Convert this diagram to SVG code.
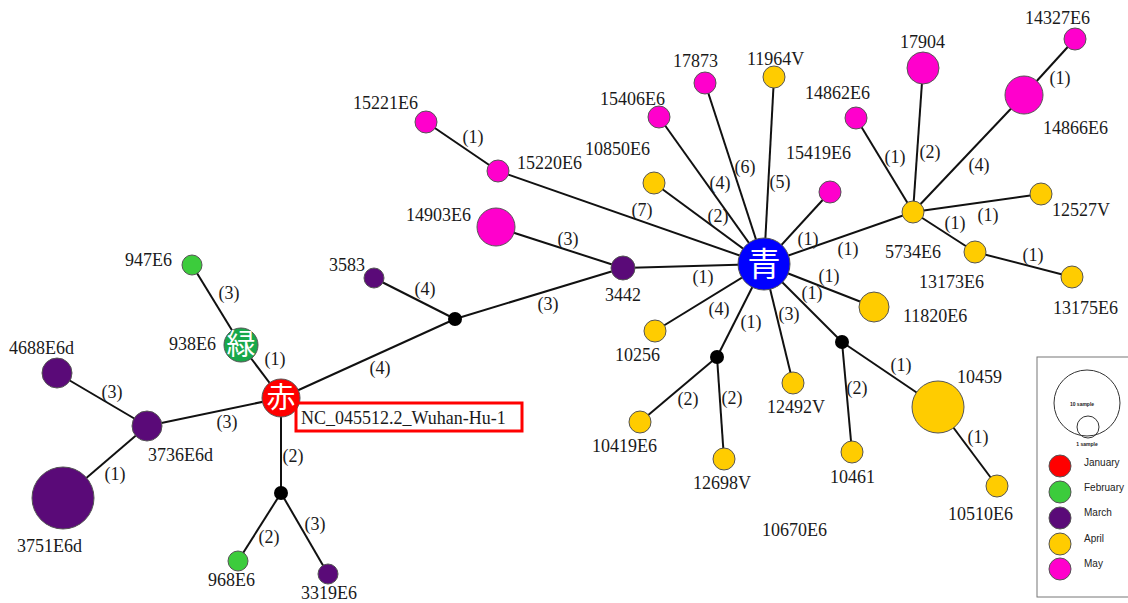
<svg xmlns="http://www.w3.org/2000/svg" width="1128" height="603" viewBox="0 0 1128 603">
<style>
.e{stroke:#111;stroke-width:2;fill:none}
.n{stroke:#555;stroke-width:1}
.r{fill:#ff0000}.g{fill:#3ccc3c}.gd{fill:#17a84a}.p{fill:#5a0a78}.y{fill:#ffcc00}.m{fill:#ff00cc}.b{fill:#0000ff}.k{fill:#000}
text{font-family:"Liberation Serif","Times New Roman",serif;font-size:18px;fill:#1a1a1a}
.el{text-anchor:middle}
text.kj{font-family:"Noto Sans CJK JP","Noto Sans CJK SC",sans-serif;fill:#fff;text-anchor:middle;font-size:29px}
text.kb{font-size:33px}
text.lg{font-family:"Liberation Sans",Arial,sans-serif;font-size:10px;fill:#222}
text.lt{font-family:"Liberation Sans",Arial,sans-serif;font-size:5px;font-weight:bold;fill:#222;text-anchor:middle}
</style>
<rect width="1128" height="603" fill="#fff"/>
<g id="connectors">
<line class="e" x1="192" y1="265" x2="241" y2="345"/>
<line class="e" x1="241" y1="345" x2="281" y2="398"/>
<line class="e" x1="57" y1="373" x2="147" y2="426"/>
<line class="e" x1="147" y1="426" x2="281" y2="398"/>
<line class="e" x1="147" y1="426" x2="63" y2="498"/>
<line class="e" x1="281" y1="398" x2="281" y2="493"/>
<line class="e" x1="281" y1="493" x2="238" y2="561"/>
<line class="e" x1="281" y1="493" x2="328" y2="574"/>
<line class="e" x1="281" y1="398" x2="455" y2="319"/>
<line class="e" x1="374" y1="278" x2="455" y2="319"/>
<line class="e" x1="455" y1="319" x2="623" y2="268"/>
<line class="e" x1="496" y1="227" x2="623" y2="268"/>
<line class="e" x1="623" y1="268" x2="764" y2="264"/>
<line class="e" x1="426" y1="122" x2="498" y2="171"/>
<line class="e" x1="498" y1="171" x2="764" y2="264"/>
<line class="e" x1="659" y1="117" x2="764" y2="264"/>
<line class="e" x1="705" y1="83" x2="764" y2="264"/>
<line class="e" x1="654" y1="183" x2="764" y2="264"/>
<line class="e" x1="774" y1="77" x2="764" y2="264"/>
<line class="e" x1="830" y1="192" x2="764" y2="264"/>
<line class="e" x1="764" y1="264" x2="913" y2="212"/>
<line class="e" x1="913" y1="212" x2="856" y2="118"/>
<line class="e" x1="913" y1="212" x2="923" y2="68"/>
<line class="e" x1="913" y1="212" x2="1024" y2="95"/>
<line class="e" x1="1024" y1="95" x2="1075" y2="39"/>
<line class="e" x1="913" y1="212" x2="1041" y2="194"/>
<line class="e" x1="913" y1="212" x2="975" y2="252"/>
<line class="e" x1="975" y1="252" x2="1072" y2="277"/>
<line class="e" x1="764" y1="264" x2="874" y2="307"/>
<line class="e" x1="764" y1="264" x2="842" y2="342"/>
<line class="e" x1="842" y1="342" x2="938" y2="407"/>
<line class="e" x1="938" y1="407" x2="997" y2="486"/>
<line class="e" x1="842" y1="342" x2="852" y2="452"/>
<line class="e" x1="764" y1="264" x2="793" y2="383"/>
<line class="e" x1="764" y1="264" x2="717" y2="357"/>
<line class="e" x1="717" y1="357" x2="640" y2="422"/>
<line class="e" x1="717" y1="357" x2="724" y2="459"/>
<line class="e" x1="764" y1="264" x2="655" y2="331"/>
</g>
<g id="edge-labels">
<text class="el" x="229" y="299">(3)</text>
<text class="el" x="275" y="365">(1)</text>
<text class="el" x="112" y="398">(3)</text>
<text class="el" x="227" y="428">(3)</text>
<text class="el" x="115" y="480">(1)</text>
<text class="el" x="293" y="462">(2)</text>
<text class="el" x="269" y="543">(2)</text>
<text class="el" x="315" y="530">(3)</text>
<text class="el" x="380" y="374">(4)</text>
<text class="el" x="425" y="295">(4)</text>
<text class="el" x="548" y="310">(3)</text>
<text class="el" x="568" y="245">(3)</text>
<text class="el" x="703" y="283">(1)</text>
<text class="el" x="473" y="143">(1)</text>
<text class="el" x="642" y="216">(7)</text>
<text class="el" x="720" y="189">(4)</text>
<text class="el" x="745" y="173">(6)</text>
<text class="el" x="718" y="222">(2)</text>
<text class="el" x="780" y="188">(5)</text>
<text class="el" x="808" y="245">(1)</text>
<text class="el" x="848" y="255">(1)</text>
<text class="el" x="895" y="163">(1)</text>
<text class="el" x="930" y="158">(2)</text>
<text class="el" x="979" y="171">(4)</text>
<text class="el" x="1060" y="84">(1)</text>
<text class="el" x="988" y="221">(1)</text>
<text class="el" x="955" y="229">(1)</text>
<text class="el" x="1033" y="261">(1)</text>
<text class="el" x="829" y="282">(1)</text>
<text class="el" x="812" y="299">(1)</text>
<text class="el" x="719" y="315">(4)</text>
<text class="el" x="751" y="328">(1)</text>
<text class="el" x="789" y="320">(3)</text>
<text class="el" x="901" y="371">(1)</text>
<text class="el" x="857" y="394">(2)</text>
<text class="el" x="688" y="405">(2)</text>
<text class="el" x="732" y="404">(2)</text>
<text class="el" x="978" y="443">(1)</text>
</g>
<g id="n947E6"><circle class="n g" cx="192" cy="265" r="10"/><text x="125" y="266">947E6</text></g>
<g id="n938E6"><circle class="n gd" cx="241" cy="345" r="17"/><text class="kj" x="241" y="355">緑</text><text x="169" y="350">938E6</text></g>
<g id="nWuhan"><circle class="n r" cx="281" cy="398" r="19"/><text class="kj" x="281" y="408">赤</text><rect x="296" y="403" width="226" height="28" fill="none" stroke="#f00" stroke-width="3"/><text x="301" y="424">NC_045512.2_Wuhan-Hu-1</text></g>
<g id="n4688E6d"><circle class="n p" cx="57" cy="373" r="15"/><text x="9" y="354">4688E6d</text></g>
<g id="n3736E6d"><circle class="n p" cx="147" cy="426" r="15"/><text x="148" y="461">3736E6d</text></g>
<g id="n3751E6d"><circle class="n p" cx="63" cy="498" r="31"/><text x="17" y="552">3751E6d</text></g>
<g id="bd1"><circle class="k" cx="281" cy="493" r="7"/></g>
<g id="n968E6"><circle class="n g" cx="238" cy="561" r="10"/><text x="208" y="586">968E6</text></g>
<g id="n3319E6"><circle class="n p" cx="328" cy="574" r="10"/><text x="301" y="599">3319E6</text></g>
<g id="bd2"><circle class="k" cx="455" cy="319" r="7"/></g>
<g id="n3583"><circle class="n p" cx="374" cy="278" r="10"/><text x="329" y="271">3583</text></g>
<g id="n3442"><circle class="n p" cx="623" cy="268" r="12"/><text x="605" y="301">3442</text></g>
<g id="n14903E6"><circle class="n m" cx="496" cy="227" r="19"/><text x="406" y="221">14903E6</text></g>
<g id="n15221E6"><circle class="n m" cx="426" cy="122" r="11"/><text x="353" y="109">15221E6</text></g>
<g id="n15220E6"><circle class="n m" cx="498" cy="171" r="11"/><text x="517" y="169">15220E6</text></g>
<g id="n15406E6"><circle class="n m" cx="659" cy="117" r="11"/><text x="600" y="105">15406E6</text></g>
<g id="n17873"><circle class="n m" cx="705" cy="83" r="11"/><text x="673" y="67">17873</text></g>
<g id="n10850E6"><circle class="n y" cx="654" cy="183" r="11"/><text x="585" y="155">10850E6</text></g>
<g id="n11964V"><circle class="n y" cx="774" cy="77" r="11"/><text x="747" y="65">11964V</text></g>
<g id="n15419E6"><circle class="n m" cx="830" cy="192" r="11"/><text x="786" y="159">15419E6</text></g>
<g id="nBlue"><circle class="n b" cx="764" cy="264" r="26"/><text class="kj kb" x="764" y="276">青</text></g>
<g id="n5734E6"><circle class="n y" cx="913" cy="212" r="11"/><text x="885" y="258">5734E6</text></g>
<g id="n14862E6"><circle class="n m" cx="856" cy="118" r="11"/><text x="805" y="99">14862E6</text></g>
<g id="n17904"><circle class="n m" cx="923" cy="68" r="16"/><text x="900" y="48">17904</text></g>
<g id="n14866E6"><circle class="n m" cx="1024" cy="95" r="19"/><text x="1043" y="134">14866E6</text></g>
<g id="n14327E6"><circle class="n m" cx="1075" cy="39" r="11"/><text x="1025" y="24">14327E6</text></g>
<g id="n12527V"><circle class="n y" cx="1041" cy="194" r="11"/><text x="1052" y="216">12527V</text></g>
<g id="n13173E6"><circle class="n y" cx="975" cy="252" r="11"/><text x="919" y="288">13173E6</text></g>
<g id="n13175E6"><circle class="n y" cx="1072" cy="277" r="11"/><text x="1053" y="314">13175E6</text></g>
<g id="n11820E6"><circle class="n y" cx="874" cy="307" r="15"/><text x="903" y="322">11820E6</text></g>
<g id="bd3"><circle class="k" cx="842" cy="342" r="7"/></g>
<g id="n10459"><circle class="n y" cx="938" cy="407" r="26"/><text x="957" y="383">10459</text></g>
<g id="n10510E6"><circle class="n y" cx="997" cy="486" r="11"/><text x="948" y="520">10510E6</text></g>
<g id="n10461"><circle class="n y" cx="852" cy="452" r="11"/><text x="830" y="483">10461</text></g>
<g id="n12492V"><circle class="n y" cx="793" cy="383" r="11"/><text x="767" y="413">12492V</text></g>
<g id="bd4"><circle class="k" cx="717" cy="357" r="7"/></g>
<g id="n10419E6"><circle class="n y" cx="640" cy="422" r="11"/><text x="592" y="452">10419E6</text></g>
<g id="n12698V"><circle class="n y" cx="724" cy="459" r="11"/><text x="693" y="489">12698V</text></g>
<g id="n10256"><circle class="n y" cx="655" cy="331" r="11"/><text x="615" y="361">10256</text></g>
<g id="n10670E6"><text x="762" y="536">10670E6</text></g>
<g id="legend">
<rect x="1037" y="357" width="96" height="240" fill="#fff" stroke="#777" stroke-width="1"/>
<circle cx="1087" cy="403" r="33" fill="none" stroke="#333" stroke-width="1"/>
<circle cx="1088" cy="427" r="11" fill="none" stroke="#333" stroke-width="1"/>
<text class="lt" x="1082" y="406">10 sample</text>
<text class="lt" x="1087" y="446">1 sample</text>
<circle class="n r" cx="1060" cy="466" r="11"/><text class="lg" x="1084" y="466">January</text>
<circle class="n g" cx="1060" cy="492" r="11"/><text class="lg" x="1084" y="491">February</text>
<circle class="n p" cx="1060" cy="518" r="11"/><text class="lg" x="1084" y="516">March</text>
<circle class="n y" cx="1060" cy="544" r="11"/><text class="lg" x="1084" y="542">April</text>
<circle class="n m" cx="1060" cy="569" r="11"/><text class="lg" x="1084" y="567">May</text>
</g>
</svg>
